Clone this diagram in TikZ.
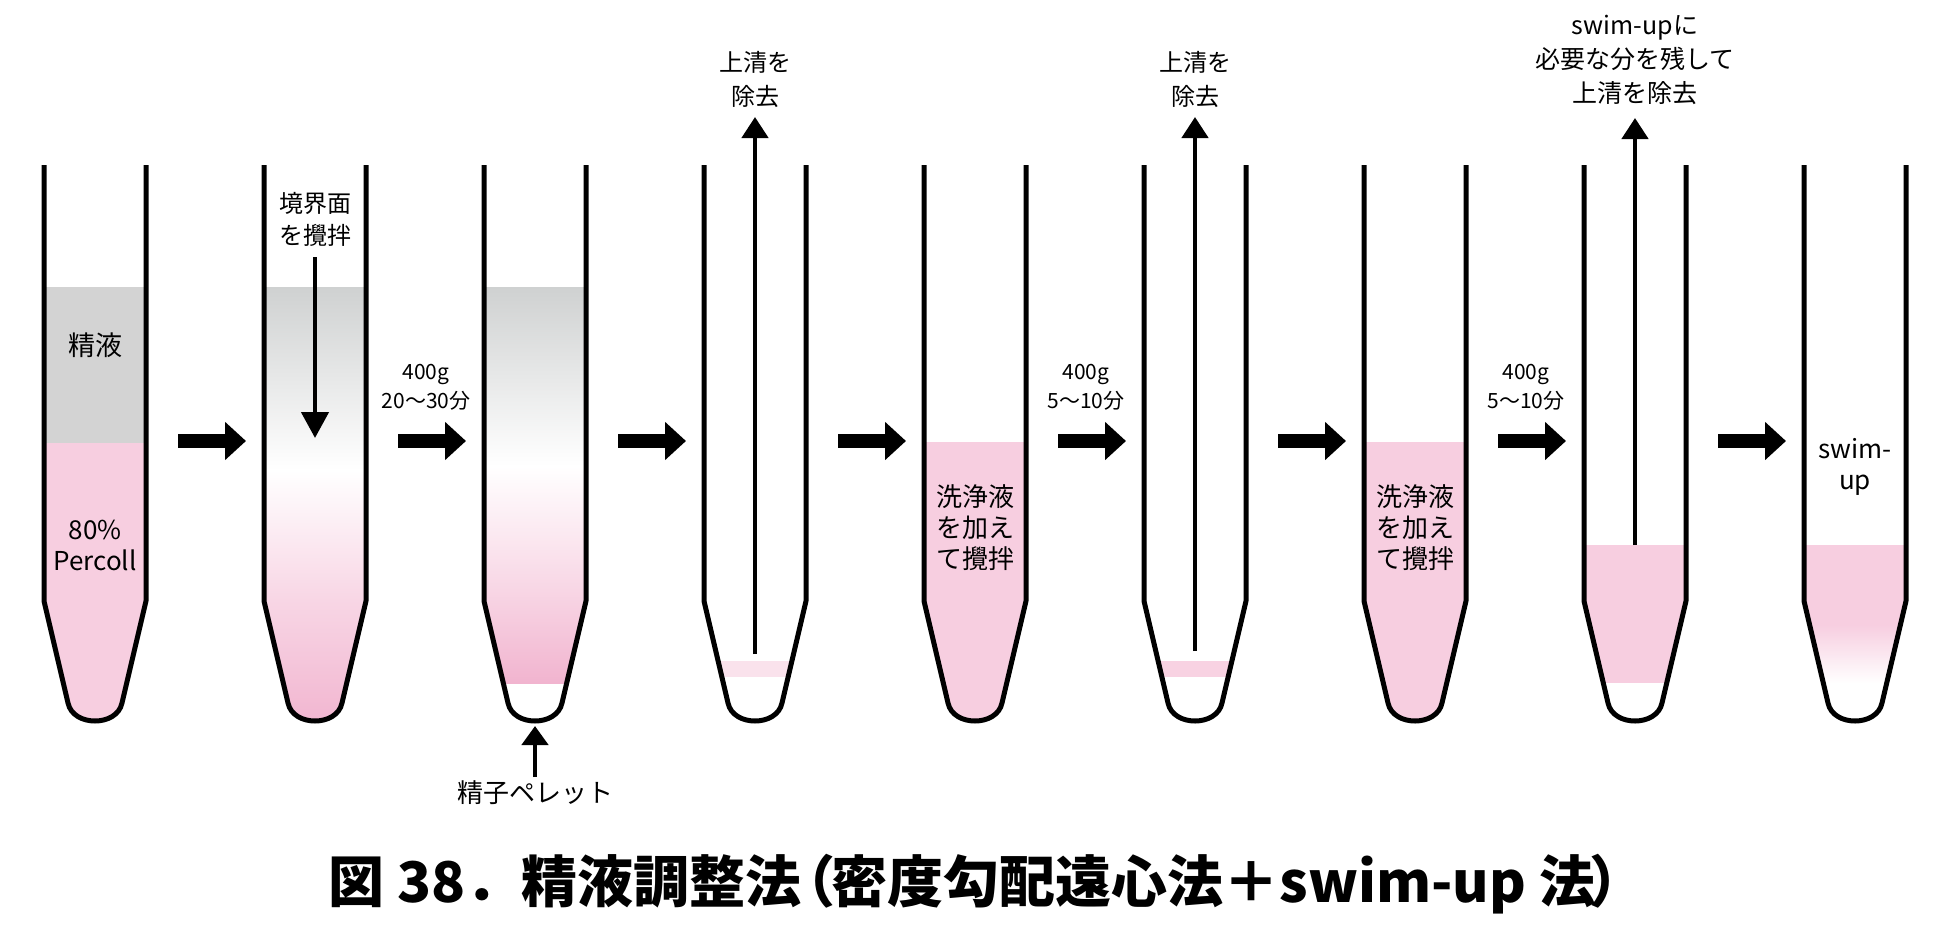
\documentclass[tikz,border=0pt]{standalone}
\usepackage{fontspec}
\newfontfamily\jp{Noto Sans CJK JP}
\usetikzlibrary{arrows.meta}
\definecolor{pk}{RGB}{247,206,224}
\definecolor{pkdeep}{RGB}{241,180,207}
\definecolor{pkmid}{RGB}{248,214,229}
\definecolor{gy}{RGB}{211,211,211}
\definecolor{gyt}{RGB}{207,209,209}
\definecolor{pkband}{RGB}{250,226,236}
\definecolor{pkbandb}{RGB}{248,210,226}
\newcommand{\tubepath}[1]{(#1-51,165) -- (#1-51,601) -- (#1-27,703) .. controls (#1-22,727) and (#1+22,727) .. (#1+27,703) -- (#1+51,601) -- (#1+51,165)}
\begin{document}
\begin{tikzpicture}[x=1pt,y=-1pt,
  wall/.style={line width=5pt, line join=round},
  fat/.style={line width=14pt, -{Triangle[length=21pt,width=37pt]}},
  thinarrow/.style={line width=4.5pt, -{Triangle[length=21pt,width=26pt]}},
  lab/.style={font=\jp\fontsize{26}{31}\selectfont, align=center, inner sep=0pt},
  toplab/.style={font=\jp\fontsize{24}{34}\selectfont, align=center, inner sep=0pt},
  arrlab/.style={font=\jp\fontsize{21}{29}\selectfont, align=center, inner sep=0pt},
  titlelab/.style={font=\jp\bfseries\fontsize{56}{60}\selectfont, inner sep=0pt}
]
\fill[white] (0,0) rectangle (1949,945);
\useasboundingbox (0,0) rectangle (1949,945);

% ---------- fills ----------
% tube 1
\begin{scope}
  \clip \tubepath{95} -- cycle;
  \fill[gy] (30,287) rectangle (160,443);
  \fill[pk] (30,443) rectangle (160,730);
\end{scope}
% tube 2
\begin{scope}
  \clip \tubepath{315} -- cycle;
  \shade[top color=gyt, bottom color=white] (250,287) rectangle (380,470);
  \shade[top color=white, bottom color=pkmid] (250,470) rectangle (380,600);
  \shade[top color=pkmid, bottom color=pkdeep] (250,600) rectangle (380,730);
\end{scope}
% tube 3
\begin{scope}
  \clip \tubepath{535} -- cycle;
  \shade[top color=gyt, bottom color=white] (470,287) rectangle (600,466);
  \shade[top color=white, bottom color=pkmid] (470,466) rectangle (600,590);
  \shade[top color=pkmid, bottom color=pkdeep] (470,590) rectangle (600,683);
\end{scope}
% tube 4
\begin{scope}
  \clip \tubepath{755} -- cycle;
  \fill[pkband] (690,661) rectangle (820,677);
\end{scope}
% tube 5
\begin{scope}
  \clip \tubepath{975} -- cycle;
  \fill[pk] (910,442) rectangle (1040,730);
\end{scope}
% tube 6
\begin{scope}
  \clip \tubepath{1195} -- cycle;
  \fill[pkbandb] (1130,661) rectangle (1260,677);
\end{scope}
% tube 7
\begin{scope}
  \clip \tubepath{1415} -- cycle;
  \fill[pk] (1350,442) rectangle (1480,730);
\end{scope}
% tube 8
\begin{scope}
  \clip \tubepath{1635} -- cycle;
  \fill[pk] (1570,545) rectangle (1700,683);
\end{scope}
% tube 9
\begin{scope}
  \clip \tubepath{1855} -- cycle;
  \fill[pk] (1790,545) rectangle (1920,626);
  \shade[top color=pk, middle color=pkmid, bottom color=white] (1790,625) rectangle (1920,683);
\end{scope}

% ---------- walls ----------
\foreach \cx in {95,315,535,755,975,1195,1415,1635,1855}
  \draw[wall] \tubepath{\cx};

% ---------- process arrows ----------
\foreach \i/\xs in {1/178,2/398,3/618,4/838,5/1058,6/1278,7/1498,8/1718}{
  \coordinate (s\i) at (\xs,441);
  \coordinate (e\i) at (\xs+68,441);
  \draw[fat] (s\i) -- (e\i);
}

% ---------- labels inside tubes ----------
\node[lab, font=\jp\fontsize{27}{31}\selectfont] (semen) at (95,345) {精液};
\node[lab] (percoll) at (95,545) {80\%\\Percoll};
\node[lab] (wash1) at (975,528) {洗浄液\\を加え\\て攪拌};
\node[lab] (wash2) at (1415,528) {洗浄液\\を加え\\て攪拌};
\node[lab] (swimup) at (1855,467) {swim-\\up};

% ---------- labels above tubes ----------
\node[toplab, font=\jp\fontsize{24}{32}\selectfont] (stir) at (315,219) {境界面\\を攪拌};
\coordinate (stirtop) at (315,257);
\coordinate (stirbot) at (315,438);
\draw[thinarrow, -{Triangle[length=26pt,width=27pt]}] (stirtop) -- (stirbot);

\node[toplab] (rem1) at (755,79) {上清を\\除去};
\coordinate (r1a) at (755,654);
\coordinate (r1b) at (755,117);
\draw[thinarrow] (r1a) -- (r1b);

\node[toplab] (rem2) at (1195,79) {上清を\\除去};
\coordinate (r2a) at (1195,651);
\coordinate (r2b) at (1195,117);
\draw[thinarrow] (r2a) -- (r2b);

\node[toplab, font=\jp\fontsize{25}{34}\selectfont] (rem3) at (1635,60) {swim-upに\\必要な分を残して\\上清を除去};
\coordinate (r3a) at (1635,545);
\coordinate (r3b) at (1635,118);
\draw[thinarrow] (r3a) -- (r3b);

% ---------- pellet ----------
\node[toplab, font=\jp\fontsize{26}{30}\selectfont] (pellet) at (535,793) {精子ペレット};
\coordinate (pa) at (535,777);
\coordinate (pb) at (535,726);
\draw[thinarrow, -{Triangle[length=19pt,width=26pt]}] (pa) -- (pb);

% ---------- centrifuge labels ----------
\node[arrlab] (c1) at (426,387) {400g\\20～30分};
\node[arrlab] (c2) at (1086,387) {400g\\5～10分};
\node[arrlab] (c3) at (1526,387) {400g\\5～10分};

% ---------- title ----------
\node[titlelab, anchor=west] (title) at (328,884) {図 38．精液調整法\hspace{-0.38em}（\hspace{-0.08em}密度勾配遠心法＋swim-up 法\hspace{-0.1em}）};
\end{tikzpicture}
\end{document}
